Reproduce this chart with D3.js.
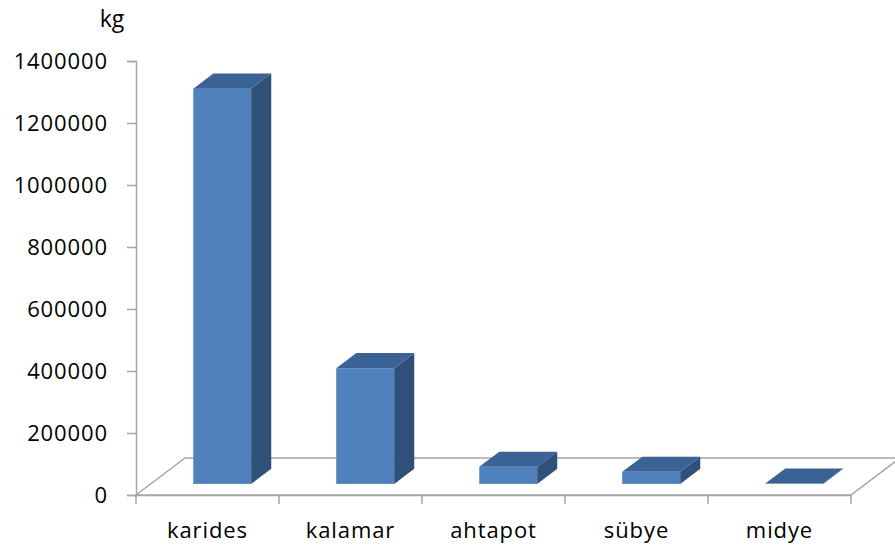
<!DOCTYPE html>
<html>
<head>
<meta charset="utf-8">
<script src="https://cdn.jsdelivr.net/npm/d3@7"></script>
<style>
body { margin: 0; background: #fff; }
text { font-family: "Open Sans", sans-serif; fill: #000; }
</style>
</head>
<body>
<script>
var categories = ["karides", "kalamar", "ahtapot", "sübye", "midye"];
var values = [1275000, 373000, 55000, 39000, 1000];
var yTicks = [0, 200000, 400000, 600000, 800000, 1000000, 1200000, 1400000];
var unitLabel = "kg";

(function() {
var width = 895, height = 551;
var svg = d3.select("body").append("svg")
    .attr("width", width).attr("height", height);

// plot frame
var plotLeft = 136, plotRight = 851, plotBottom = 495, plotTop = 61;
// floor depth vector
var depthX = 49, depthY = -37;
// bar depth placement (fractions of floor depth)
var f1 = 0.3, f2 = 0.71;

var x = d3.scaleBand().domain(categories).range([plotLeft, plotRight]).paddingInner(0).paddingOuter(0);
var y = d3.scaleLinear().domain([0, 1400000]).range([plotBottom, plotTop]);

var grey = "#a6a6a6";

// floor
var floor = svg.append("g").attr("fill", "none").attr("stroke", grey).attr("stroke-width", 1.5);
floor.append("path").attr("d",
    "M" + plotLeft + "," + plotBottom +
    "L" + (plotLeft + depthX) + "," + (plotBottom + depthY) +
    "L" + (plotRight + depthX) + "," + (plotBottom + depthY) +
    "L" + plotRight + "," + plotBottom + "Z");

// y axis
var yAxis = d3.axisLeft(y).tickValues(yTicks).tickSize(9).tickPadding(19)
    .tickFormat(function(d) { return d; });
var ya = svg.append("g").attr("transform", "translate(" + plotLeft + ",0)").call(yAxis);
ya.select(".domain").attr("stroke", grey).attr("stroke-width", 1.5);
ya.selectAll(".tick line").attr("stroke", grey).attr("stroke-width", 1.5);
ya.selectAll(".tick text").attr("font-size", 22).attr("letter-spacing", "0.9px")
    .attr("font-family", "Open Sans").attr("fill", "#000").attr("dy", "0.36em");

// x axis
var xAxis = d3.axisBottom(x).tickSize(0).tickPadding(0);
var xa = svg.append("g").attr("transform", "translate(0," + plotBottom + ")").call(xAxis);
xa.select(".domain").attr("stroke", grey).attr("stroke-width", 1.5);
xa.selectAll(".tick text").remove();
var tickXs = categories.map(function(c) { return x(c); }).concat([plotRight]);
xa.selectAll(".cattick").data(tickXs).enter().append("line")
    .attr("x1", function(d) { return d; }).attr("x2", function(d) { return d; })
    .attr("y1", 0).attr("y2", 9)
    .attr("stroke", grey).attr("stroke-width", 1.5);

svg.append("g").selectAll("text").data(categories).enter().append("text")
    .attr("x", function(d) { return x(d) + x.bandwidth() / 2; })
    .attr("y", 538)
    .attr("text-anchor", "middle")
    .attr("font-size", 22).attr("letter-spacing", "0.9px")
    .text(function(d) { return d; });

// bars
var barW = x.bandwidth() * 0.405;
var bx = function(c) { return x(c) + (x.bandwidth() - barW) / 2 + depthX * f1; };
var by0 = plotBottom + depthY * f1;
var ddx = depthX * (f2 - f1), ddy = depthY * (f2 - f1);

var bars = svg.append("g").selectAll("g").data(categories.map(function(c, i) {
    return { name: c, value: values[i] };
})).enter().append("g");

bars.append("rect")
    .attr("x", function(d) { return bx(d.name); })
    .attr("y", function(d) { return by0 - (plotBottom - y(d.value)); })
    .attr("width", barW)
    .attr("height", function(d) { return plotBottom - y(d.value); })
    .attr("fill", "#4f81bd");

bars.append("path")
    .attr("fill", "#2f5079")
    .attr("d", function(d) {
        var x0 = bx(d.name) + barW, yb = by0, yt = by0 - (plotBottom - y(d.value));
        return "M" + x0 + "," + yb + "L" + (x0 + ddx) + "," + (yb + ddy) +
            "L" + (x0 + ddx) + "," + (yt + ddy) + "L" + x0 + "," + yt + "Z";
    });

bars.append("path")
    .attr("fill", "#3a6294")
    .attr("d", function(d) {
        var x0 = bx(d.name), yt = by0 - (plotBottom - y(d.value));
        return "M" + x0 + "," + yt + "L" + (x0 + barW) + "," + yt +
            "L" + (x0 + barW + ddx) + "," + (yt + ddy) + "L" + (x0 + ddx) + "," + (yt + ddy) + "Z";
    });

// unit label
svg.append("text").attr("x", 112).attr("y", 27).attr("text-anchor", "middle")
    .attr("font-size", 23).text(unitLabel);
})();
</script>
</body>
</html>
